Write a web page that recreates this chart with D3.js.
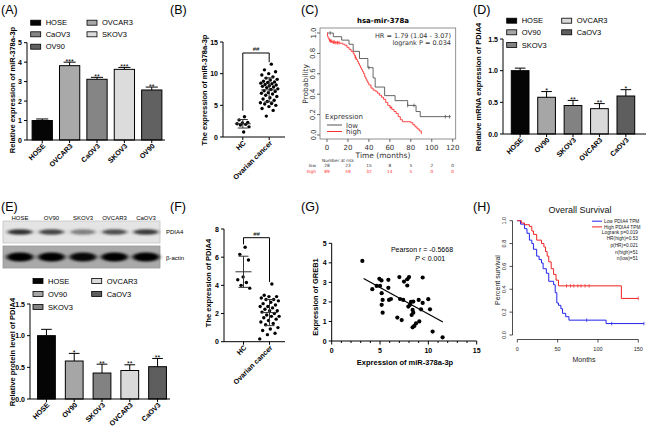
<!DOCTYPE html>
<html><head><meta charset="utf-8">
<script src="https://cdn.jsdelivr.net/npm/d3@7"></script>
<style>body{margin:0;background:#fff}svg{display:block}</style>
</head><body>
<svg id="chart" width="650" height="431"></svg>
<script>
// ================= DATA =================
// (A) miR-378a-3p expression in cell lines
const aCategories = ["HOSE","OVCAR3","CaOV3","SKOV3","OV90"];
const aValues = [1.0, 3.82, 3.12, 3.63, 2.57];
const aErrors = [0.08, 0.18, 0.10, 0.10, 0.15];
const aStars = ["", "***", "**", "***", "**"];
const aColors = ["#050505","#a9a9a9","#858585","#dcdcdc","#616161"];
const aLegend = ["HOSE","CaOV3","OV90","OVCAR3","SKOV3"];
const aTicks = [0,1,2,3,4,5];

// (B) miR-378a-3p in tissues
const bGroups = ["HC","Ovarian cancer"];
const bHC = [3.2,2.7,2.3,2.2,2.1,2.0,1.9,1.6,0.8];
const bOC = [11.5,10.6,10.3,10.0,9.8,9.5,9.3,9.1,9.0,8.8,8.7,8.6,8.5,8.4,8.3,8.2,8.1,8.0,7.9,7.8,
             7.6,7.5,7.3,7.2,7.0,6.9,6.8,6.6,6.4,6.2,6.0,5.8,5.6,5.4,5.3,5.2,5.0,4.8,4.5,4.2,3.3];
const bTicks = [0,5,10,15];

// (C) KM plot hsa-mir-378a
const cLowTime = [0,6,14,21,25,31,39,44,46,55,65,77,85,89,118];
const cLowSurv = [1,0.964,0.93,0.89,0.82,0.75,0.66,0.56,0.47,0.386,0.337,0.29,0.23,0.18,0.18];
const cLowCensor = [3,40,77,83,113,117];
const cHighTime = [0,0.5,1,2,3,5,8,12,15,17,19,21,23,25,26,27,28,29,30,31,32,33,34,35,36,37,38,39,40,42,
                   44,46,48,50,52,54,56,58,60,62,64,66,68,70,72,80,82,84,86,88,90];
const cHighSurv = [1,0.97,0.95,0.93,0.92,0.91,0.905,0.9,0.89,0.88,0.86,0.84,0.82,0.8,0.78,0.76,0.74,0.72,0.70,0.68,
                   0.66,0.64,0.62,0.6,0.57,0.55,0.53,0.51,0.49,0.46,0.44,0.43,0.41,0.39,0.37,0.35,0.32,0.29,0.27,0.25,
                   0.23,0.21,0.18,0.15,0.13,0.12,0.10,0.08,0.06,0.04,0.01];
const cHighCensor = [2.5,3.5,4.5,6,7,8.5,10,11.5,27,61];
const cTicksX = [0,20,40,60,80,100,120];
const cTicksY = [0,0.2,0.4,0.6,0.8,1.0];
const cRiskLow = [28,23,15,8,5,2,0];
const cRiskHigh = [89,59,32,14,5,0,0];

// (D) PDIA4 mRNA
const dCategories = ["HOSE","OV90","SKOV3","OVCAR3","CaOV3"];
const dValues = [1.0,0.58,0.45,0.40,0.60];
const dErrors = [0.04,0.09,0.08,0.08,0.10];
const dStars = ["","*","**","**","*"];
const dColors = ["#050505","#a6a6a6","#828282","#d9d9d9","#5e5e5e"];
const dLegend = ["HOSE","OV90","SKOV3","OVCAR3","CaOV3"];
const dTicks = [0,0.5,1.0,1.5];

// (E) PDIA4 protein
const eLanes = ["HOSE","OV90","SKOV3","OVCAR3","CaOV3"];
const ePDIA4Band = [0.9,0.8,0.5,0.75,0.85];
const eActinBand = [1,1,0.95,1,1];
const eValues = [1.0,0.60,0.41,0.45,0.51];
const eErrors = [0.10,0.12,0.14,0.09,0.13];
const eStars = ["","*","**","**","**"];
const eTicks = [0,0.5,1.0,1.5];

// (F) PDIA4 in tissues
const fHC = [6.7,6.2,5.8,4.6,4.4,4.2,4.0,3.8];
const fOC = [4.1,3.3,3.2,3.2,3.1,3.0,3.0,2.9,2.8,2.7,2.6,2.5,2.5,2.4,2.3,2.2,2.2,2.1,2.0,1.9,
             1.8,1.8,1.7,1.6,1.5,1.4,1.3,1.2,1.0,0.9,0.8,0.6,0.5,0.2];
const fTicks = [0,2,4,6,8];

// (G) correlation
const gMir = [3.17,4.2,4.65,4.93,5.15,5.0,5.17,5.27,5.17,5.27,5.86,5.86,5.93,6.13,7.0,7.07,7.4,6.79,7.24,7.48,
              7.82,8.0,7.82,7.93,8.1,8.2,8.44,8.37,8.27,8.44,8.37,8.55,8.72,9.06,9.0,9.41,9.41,9.24,9.99,10.17,10.44,11.47];
const gGreb = [4.1,2.65,2.82,3.18,3.1,2.82,2.45,2.1,1.85,1.45,3.13,2.72,2.1,2.15,3.27,2.15,2.1,1.2,1.07,3.04,
               3.16,3.27,2.84,1.76,1.85,2.0,2.02,1.59,1.33,1.45,0.7,0.77,0.9,1.0,2.1,3.25,1.95,1.62,2.14,1.62,0.48,0.19];
const gFit = [[3.3,3.2],[11.5,0.97]];
const gTicksX = [0,5,10,15];
const gTicksY = [0,1,2,3,4,5];

// (H) Overall survival PDIA4
const hLowTime = [0,4,9,12,15,18,20,24,27,30,32,36,39,45,47,49,51,54,56,60,64,110,157];
const hLowSurv = [1,0.97,0.93,0.89,0.83,0.8,0.75,0.69,0.66,0.63,0.58,0.54,0.47,0.44,0.37,0.28,0.26,0.23,0.19,0.16,0.13,0.10,0.10];
const hLowCensor = [86,117,157];
const hHighTime = [0,5,9,15,18,20,24,30,33,35,37,39,42,45,48,51,129,150];
const hHighSurv = [1,0.98,0.965,0.95,0.91,0.88,0.83,0.80,0.77,0.73,0.69,0.64,0.58,0.53,0.48,0.43,0.32,0.32];
const hHighCensor = [61,66,70,75,79,84,89,150];
const hTicksX = [0,50,100,150];
const hTicksY = [0,0.2,0.4,0.6,0.8,1.0];
const hStats = ["Logrank p=0.019","HR(high)=0.53","p(HR)=0.021","n(high)=51","n(low)=51"];

// ================= HELPERS =================
const FONT = "'Liberation Sans', Arial, Helvetica, sans-serif";
const DJ = "'DejaVu Sans', sans-serif";
const svg = d3.select("#chart");
svg.append("rect").attr("width",650).attr("height",431).attr("fill","#fff");
const defs = svg.append("defs");
defs.append("filter").attr("id","blur").attr("x","-50%").attr("y","-80%").attr("width","200%").attr("height","260%")
  .append("feGaussianBlur").attr("stdDeviation","2 1.3");

function text(g, x, y, s, o = {}) {
  const t = g.append("text").attr("x", x).attr("y", y).text(s)
    .attr("font-family", o.family || FONT)
    .attr("font-size", o.size || 7)
    .attr("font-weight", o.weight || "normal")
    .attr("fill", o.fill || "#000")
    .attr("text-anchor", o.anchor || "start");
  if (o.rotate) t.attr("transform", `rotate(${o.rotate},${x},${y})`);
  if (o.italic) t.attr("font-style", "italic");
  return t;
}
function line(g, x1, y1, x2, y2, o = {}) {
  return g.append("line").attr("x1",x1).attr("y1",y1).attr("x2",x2).attr("y2",y2)
    .attr("stroke", o.stroke || "#000").attr("stroke-width", o.w || 1);
}

// panel letters
[["(A)",1,14],["(B)",170,14],["(C)",301,14],["(D)",473,14],["(E)",1,211],["(F)",170,211],["(G)",301,211],["(H)",473,211]]
  .forEach(([s,x,y]) => text(svg, x, y, s, {size:12.5}));

// ================= BAR PANELS =================
function barPanel(o) {
  const g = svg.append("g");
  const x = d3.scaleBand().domain(o.cats).range(o.xRange).paddingInner(o.pi).paddingOuter(o.po);
  const y = d3.scaleLinear().domain(o.yDomain).range(o.yRange);
  const y0 = y(0);
  o.legend.forEach((name, k) => {
    const col = k < 3 ? 0 : 1, row = k % 3;
    const i = o.cats.indexOf(name);
    const lx = o.legX[col], ly = o.legY[row];
    g.append("rect").attr("x",lx).attr("y",ly-2.5).attr("width",10).attr("height",5)
      .attr("fill",o.colors[i]).attr("stroke","#000").attr("stroke-width",0.8);
    text(g, lx+15, ly+2.7, name, {size:7.5});
  });
  g.selectAll(null).data(o.cats).join("rect")
    .attr("x", d => x(d)).attr("width", x.bandwidth())
    .attr("y", (d,i) => y(o.values[i])).attr("height", (d,i) => y0 - y(o.values[i]))
    .attr("fill", (d,i) => o.colors[i]).attr("stroke","#000").attr("stroke-width",1);
  o.cats.forEach((d,i) => {
    const cx = x(d) + x.bandwidth()/2, top = y(o.values[i] + o.errors[i]);
    line(g, cx, y(o.values[i]), cx, top);
    line(g, cx - x.bandwidth()*0.3, top, cx + x.bandwidth()*0.3, top);
    if (o.stars[i]) text(g, cx, top + 1.5, o.stars[i], {size:7, anchor:"middle"});
    line(g, cx, y0, cx, y0+3);
    text(g, cx+3.5, y0+6.5, d, {size:7.1, weight:"bold", anchor:"end", rotate:-45});
  });
  line(g, o.axX, y(o.yDomain[0]), o.axX, y(o.yDomain[1]));
  o.ticks.forEach(v => {
    line(g, o.axX-3, y(v), o.axX, y(v));
    text(g, o.axX-5, y(v)+2.5, o.fmt(v), {size:7, weight:"bold", anchor:"end"});
  });
  line(g, o.axX, y0, o.axEnd, y0);
  text(g, o.titleX, o.titleY, o.title, {size:7.5, weight:"bold", anchor:"middle", rotate:-90});
}

barPanel({cats:aCategories, values:aValues, errors:aErrors, stars:aStars, colors:aColors, legend:aLegend,
  ticks:aTicks, fmt:d3.format("d"), yDomain:[0,5], yRange:[140,42.7], xRange:[28,166], pi:0.26, po:0.15,
  axX:27, axEnd:165, legX:[30.7,87], legY:[22.7,34.3,46.7],
  title:"Relative expression of miR-378a-3p", titleX:15, titleY:90});

barPanel({cats:dCategories, values:dValues, errors:dErrors, stars:dStars, colors:dColors, legend:dLegend,
  ticks:dTicks, fmt:d3.format(".1f"), yDomain:[0,1.5], yRange:[134,39], xRange:[506,640], pi:0.33, po:0.2,
  axX:503, axEnd:646, legX:[506.7,561.7], legY:[20.7,32.3,45],
  title:"Relative mRNA expression of PDIA4", titleX:480.5, titleY:87});

barPanel({cats:eLanes, values:eValues, errors:eErrors, stars:eStars, colors:dColors, legend:dLegend,
  ticks:eTicks, fmt:d3.format(".1f"), yDomain:[0,1.5], yRange:[399,304], xRange:[32,172], pi:0.36, po:0.2,
  axX:30, axEnd:170, legX:[33,91.7], legY:[281,294,307],
  title:"Relative protein level of PDIA4", titleX:15, titleY:352});

// ================= WESTERN BLOT (E) =================
(function(){
  const g = svg.append("g");
  const lane = d3.scalePoint().domain(eLanes).range([20,146]);
  eLanes.forEach(l => text(g, lane(l), 219.5, l, {size:6, anchor:"middle"}));
  g.append("rect").attr("x",3).attr("y",221).attr("width",157).attr("height",22).attr("fill","#e4e4e4").attr("stroke","#c4c4c4").attr("stroke-width",0.8);
  g.append("rect").attr("x",3).attr("y",246).attr("width",157).attr("height",22).attr("fill","#a9a9a9").attr("stroke","#999").attr("stroke-width",0.8);
  g.selectAll(null).data(eLanes).join("ellipse")
    .attr("cx", d => lane(d)).attr("cy",232).attr("rx",12.5).attr("ry",2.8)
    .attr("fill","#1a1a1a").attr("opacity",(d,i)=>ePDIA4Band[i]).attr("filter","url(#blur)");
  g.selectAll(null).data(eLanes).join("ellipse")
    .attr("cx", d => lane(d)).attr("cy",257).attr("rx",13.5).attr("ry",4.5)
    .attr("fill","#050505").attr("opacity",(d,i)=>eActinBand[i]).attr("filter","url(#blur)");
  text(g, 166, 234, "PDIA4", {size:6});
  text(g, 166, 259.5, "β-actin", {size:6});
})();

// ================= DOT PANELS =================
function dotPanel(o) {
  const g = svg.append("g");
  const x = d3.scalePoint().domain(o.groups).range(o.xRange).padding(0.75);
  const y = d3.scaleLinear().domain(o.yDomain).range(o.yRange);
  [o.hc, o.oc].forEach((vals, gi) => {
    const cx = x(o.groups[gi]);
    const spread = o.spread[gi];
    vals.forEach((v,i) => {
      const off = ((((i+1)*0.6180339887) % 1) - 0.5) * spread;
      g.append("circle").attr("cx", cx+off).attr("cy", y(v)).attr("r",1.7).attr("fill","#000");
    });
    const m = d3.mean(vals), sd = d3.deviation(vals);
    line(g, cx-8, y(m), cx+8, y(m), {stroke:"#333"});
    line(g, cx, y(m+sd), cx, y(m-sd), {stroke:"#333"});
    line(g, cx-5, y(m+sd), cx+5, y(m+sd), {stroke:"#333"});
    line(g, cx-5, y(m-sd), cx+5, y(m-sd), {stroke:"#333"});
  });
  const x1 = x(o.groups[0]), x2 = x(o.groups[1]);
  g.append("path").attr("d", `M${x1},${y(d3.max(o.hc))-o.gap[0]}V${o.bracketY}H${x2}V${y(d3.max(o.oc))-o.gap[1]}`)
    .attr("fill","none").attr("stroke","#000").attr("stroke-width",1);
  text(g, (x1+x2)/2, o.bracketY-2, "##", {size:6, anchor:"middle"});
  line(g, o.axX, y(o.yDomain[0]), o.axX, y(o.yDomain[1]));
  o.ticks.forEach(v => {
    line(g, o.axX-3, y(v), o.axX, y(v));
    text(g, o.axX-5, y(v)+2.5, v, {size:7, weight:"bold", anchor:"end"});
  });
  const y0 = y(0);
  line(g, o.axX, y0, o.axEnd, y0);
  o.groups.forEach(gr => {
    const cx = x(gr);
    line(g, cx, y0, cx, y0+3);
    text(g, cx+3.5, y0+6.5, gr, {size:7.2, weight:"bold", anchor:"end", rotate:-45});
  });
  text(g, o.titleX, o.titleY, o.title, {size:7.5, weight:"bold", anchor:"middle", rotate:-90});
}

dotPanel({groups:bGroups, hc:bHC, oc:bOC, yDomain:[0,15], yRange:[137,42], xRange:[223,289],
  spread:[14,18], bracketY:53, gap:[6,2], axX:223, axEnd:285, ticks:bTicks,
  title:"The expression of miR-378a-3p", titleX:206.5, titleY:90});

dotPanel({groups:bGroups, hc:fHC, oc:fOC, yDomain:[0,8], yRange:[341.7,229], xRange:[224,289],
  spread:[14,20], bracketY:237.7, gap:[3,2], axX:224, axEnd:285, ticks:fTicks,
  title:"The expression of PDIA4", titleX:210.5, titleY:283});

// ================= (C) KM plot =================
(function(){
  const g = svg.append("g");
  const x = d3.scaleLinear().domain([0,120]).range([327,452.7]);
  const y = d3.scaleLinear().domain([0,1]).range([135,33]);
  g.append("rect").attr("x",320).attr("y",28).attr("width",135.7).attr("height",111)
    .attr("fill","none").attr("stroke","#777").attr("stroke-width",0.8);
  cTicksX.forEach(t => {
    line(g, x(t), 139, x(t), 142, {stroke:"#444", w:0.8});
    text(g, x(t), 149.5, t, {size:7, anchor:"middle", family:DJ, fill:"#333"});
  });
  cTicksY.forEach(v => {
    line(g, 317, y(v), 320, y(v), {stroke:"#444", w:0.8});
    text(g, 315.5, y(v), d3.format(".1f")(v), {size:7, anchor:"middle", family:DJ, fill:"#333", rotate:-90});
  });
  text(g, 383, 158, "Time (months)", {size:7.5, anchor:"middle", family:DJ, fill:"#333"});
  text(g, 307.5, 84, "Probability", {size:7.5, anchor:"middle", family:DJ, fill:"#333", rotate:-90});
  text(g, 383, 22.5, "hsa-mir-378a", {size:7, anchor:"middle", family:DJ, weight:"bold"});
  text(g, 451, 37.5, "HR = 1.79 (1.04 - 3.07)", {size:6.5, anchor:"end", family:DJ, fill:"#333"});
  text(g, 451, 44.5, "logrank P = 0.034", {size:6.5, anchor:"end", family:DJ, fill:"#333"});
  const step = d3.line().x(d => x(d[0])).y(d => y(d[1])).curve(d3.curveStepAfter);
  const series = [
    {t:cLowTime, s:cLowSurv, c:cLowCensor, col:"#555"},
    {t:cHighTime, s:cHighSurv, c:cHighCensor, col:"#ff3030"}
  ];
  series.forEach(se => {
    const pts = se.t.map((t,i) => [t, se.s[i]]);
    g.append("path").attr("d", step(pts)).attr("fill","none").attr("stroke",se.col).attr("stroke-width",0.9);
    se.c.forEach(ct => {
      const k = Math.max(0, d3.bisectRight(se.t, ct) - 1);
      line(g, x(ct), y(se.s[k])-1.8, x(ct), y(se.s[k])+1.8, {stroke:se.col, w:0.8});
    });
  });
  text(g, 325, 119, "Expression", {size:7, family:DJ, fill:"#333"});
  line(g, 327, 125, 342, 125, {stroke:"#555"});
  text(g, 346, 127.5, "low", {size:7, family:DJ, fill:"#333"});
  line(g, 327, 131.5, 342, 131.5, {stroke:"#ff3030"});
  text(g, 346, 134, "high", {size:7, family:DJ, fill:"#333"});
  text(g, 322, 161.5, "Number at risk", {size:4.3, family:DJ, fill:"#333"});
  text(g, 316, 167, "low", {size:4.3, family:DJ, fill:"#333", anchor:"end"});
  text(g, 316, 172.5, "high", {size:4.3, family:DJ, fill:"#ff3030", anchor:"end"});
  cTicksX.forEach((t,i) => {
    text(g, x(t), 167, cRiskLow[i], {size:4.3, family:DJ, fill:"#333", anchor:"middle"});
    text(g, x(t), 172.5, cRiskHigh[i], {size:4.3, family:DJ, fill:"#ff3030", anchor:"middle"});
  });
})();

// ================= (G) scatter =================
(function(){
  const g = svg.append("g");
  const x = d3.scaleLinear().domain([0,15]).range([331.7,476.7]);
  const y = d3.scaleLinear().domain([0,5]).range([341,243.3]);
  line(g, x(0), y(0), x(0), y(5));
  line(g, x(0), y(0), x(15), y(0));
  gTicksY.forEach(v => {
    line(g, x(0)-3, y(v), x(0), y(v));
    text(g, x(0)-5, y(v)+2.5, v, {size:7, weight:"bold", anchor:"end"});
  });
  d3.range(0,16).forEach(v => {
    const major = gTicksX.includes(v);
    line(g, x(v), y(0), x(v), y(0)+(major?3.5:2));
  });
  gTicksX.forEach(v => text(g, x(v), y(0)+12, v, {size:7, weight:"bold", anchor:"middle"}));
  g.selectAll(null).data(gMir).join("circle")
    .attr("cx", d => x(d)).attr("cy", (d,i) => y(gGreb[i])).attr("r",2.1).attr("fill","#000");
  line(g, x(gFit[0][0]), y(gFit[0][1]), x(gFit[1][0]), y(gFit[1][1]), {w:1.2});
  text(g, 422, 251.5, "Pearson r = -0.5668", {size:7, anchor:"middle"});
  const p = g.append("text").attr("x",415).attr("y",260.5).attr("font-family",FONT).attr("font-size",7);
  p.append("tspan").attr("font-style","italic").text("P");
  p.append("tspan").text(" < 0.001");
  text(g, 405, 365, "Expression of miR-378a-3p", {size:7.5, weight:"bold", anchor:"middle"});
  text(g, 318, 297, "Expression of GREB1", {size:7.5, weight:"bold", anchor:"middle", rotate:-90});
})();

// ================= (H) GEPIA survival =================
(function(){
  const g = svg.append("g");
  const x = d3.scaleLinear().domain([0,150]).range([517.3,638.3]);
  const y = d3.scaleLinear().domain([0,1]).range([335,220.7]);
  const axL = 512.5, axB = 339.5;
  line(g, axL, y(0), axL, y(1), {w:0.7});
  hTicksY.forEach(v => {
    line(g, axL-3, y(v), axL, y(v), {w:0.7});
    text(g, 506, y(v), d3.format(".1f")(v), {size:5.5, anchor:"middle", rotate:-90, fill:"#222"});
  });
  line(g, x(0), axB, x(150), axB, {w:0.7});
  hTicksX.forEach(v => {
    line(g, x(v), axB, x(v), axB+3, {w:0.7});
    text(g, x(v), 350.5, v, {size:5.5, anchor:"middle", fill:"#222"});
  });
  text(g, 584, 362, "Months", {size:7, anchor:"middle", fill:"#222"});
  text(g, 499.5, 280, "Percent survival", {size:7, anchor:"middle", rotate:-90, fill:"#222"});
  text(g, 580, 213, "Overall Survival", {size:9, anchor:"middle", fill:"#111"});
  const step = d3.line().x(d => x(d[0])).y(d => y(d[1])).curve(d3.curveStepAfter);
  [{t:hLowTime, s:hLowSurv, c:hLowCensor, col:"#2323ee"},
   {t:hHighTime, s:hHighSurv, c:hHighCensor, col:"#ee2323"}].forEach(se => {
    const pts = se.t.map((t,i) => [t, se.s[i]]);
    g.append("path").attr("d", step(pts)).attr("fill","none").attr("stroke",se.col).attr("stroke-width",1);
    se.c.forEach(ct => {
      const k = Math.max(0, d3.bisectRight(se.t, ct) - 1);
      line(g, x(ct), y(se.s[k])-1.8, x(ct), y(se.s[k])+1.8, {stroke:se.col, w:0.7});
    });
  });
  line(g, 592, 221.2, 602, 221.2, {stroke:"#2323ee"});
  text(g, 604, 222.9, "Low PDIA4 TPM", {size:4.8, fill:"#222"});
  line(g, 592, 226.9, 602, 226.9, {stroke:"#ee2323"});
  text(g, 604, 228.6, "High PDIA4 TPM", {size:4.8, fill:"#222"});
  const statY = [234.2, 240.2, 246.8, 253.5, 260.1];
  hStats.forEach((s,i) => text(g, 638, statY[i], s, {size:4.8, anchor:"end", fill:"#222"}));
})();
</script>
</body></html>
